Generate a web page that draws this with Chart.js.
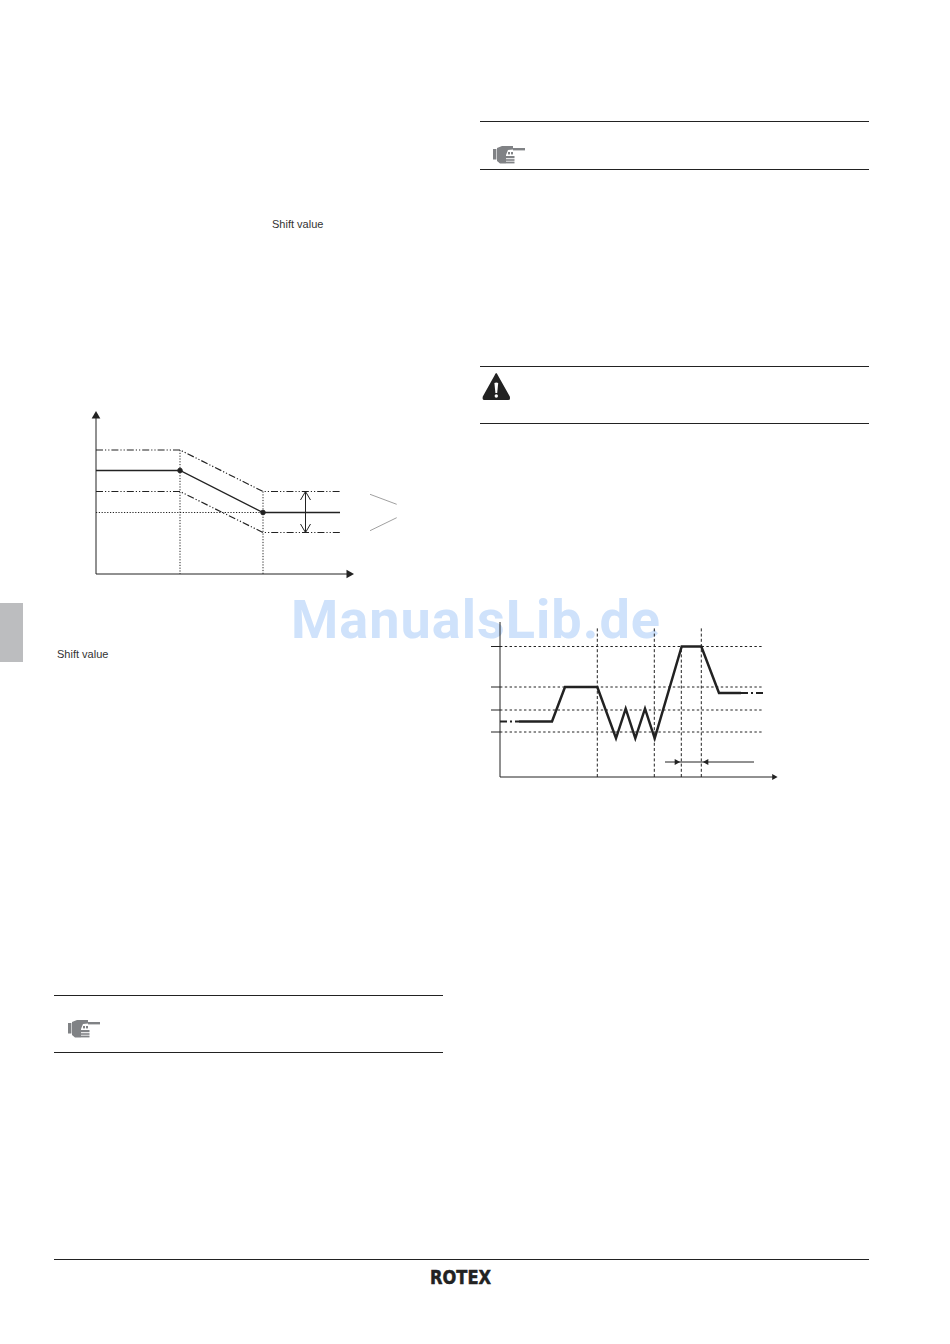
<!DOCTYPE html>
<html><head><meta charset="utf-8">
<script src="https://cdn.jsdelivr.net/npm/chart.js@4"></script>
<style>
html,body{margin:0;padding:0;background:#fff}
#page{position:relative;width:950px;height:1344px;overflow:hidden;background:#fff}
.rule{position:absolute;height:1px;background:#222}
.t{position:absolute;font-family:"Liberation Sans",sans-serif;font-size:11px;color:#333;line-height:13px;white-space:nowrap}
canvas{position:absolute}
#wm{position:absolute;left:291px;top:587px;font-family:Roboto,sans-serif;font-weight:700;font-size:54px;line-height:66px;letter-spacing:1.02px;color:#cfe2fb;white-space:nowrap;z-index:5;mix-blend-mode:multiply}
#logo{position:absolute;left:430px;top:1267px;font-family:"DejaVu Sans",sans-serif;font-weight:bold;font-size:19px;line-height:21px;color:#222;-webkit-text-stroke:.5px #222;transform:scaleX(.855);transform-origin:0 0}
</style></head><body>
<div id="page">
<div style="position:absolute;left:0;top:603px;width:23px;height:59px;background:#bcbdbf"></div>
<div class="rule" style="left:480px;top:121px;width:389px"></div>
<div class="rule" style="left:480px;top:169px;width:389px"></div>
<div class="rule" style="left:480px;top:366px;width:389px"></div>
<div class="rule" style="left:480px;top:423px;width:389px"></div>
<div class="rule" style="left:54px;top:995px;width:389px"></div>
<div class="rule" style="left:54px;top:1052px;width:389px"></div>
<div class="rule" style="left:54px;top:1259px;width:815px"></div>
<div class="t" style="left:272px;top:218px">Shift value</div>
<div class="t" style="left:57px;top:648px">Shift value</div>
<svg style="position:absolute;left:493px;top:146px" width="34" height="18" viewBox="0 0 34 18"><g fill="#808285"><rect x="0" y="3" width="3.4" height="10.5"/><path d="M4 2 L9 0 L20 0 L20 3.4 L15 4 L13 9 L13 17.4 L7 17.4 L4 15Z"/><rect x="20" y="2" width="12" height="2.4"/><rect x="15" y="6" width="2" height="2.4"/><rect x="18" y="6" width="2" height="2.4"/><rect x="13" y="10" width="8.5" height="2.2"/><rect x="13" y="13.2" width="8.5" height="1.6"/><rect x="13" y="15.6" width="8.5" height="1.8"/></g></svg>
<svg style="position:absolute;left:68px;top:1020px" width="34" height="18" viewBox="0 0 34 18"><g fill="#808285"><rect x="0" y="3" width="3.4" height="10.5"/><path d="M4 2 L9 0 L20 0 L20 3.4 L15 4 L13 9 L13 17.4 L7 17.4 L4 15Z"/><rect x="20" y="2" width="12" height="2.4"/><rect x="15" y="6" width="2" height="2.4"/><rect x="18" y="6" width="2" height="2.4"/><rect x="13" y="10" width="8.5" height="2.2"/><rect x="13" y="13.2" width="8.5" height="1.6"/><rect x="13" y="15.6" width="8.5" height="1.8"/></g></svg>
<svg style="position:absolute;left:482px;top:372px" width="30" height="29" viewBox="0 0 30 29"><path d="M14.2 1 Q15 1 16 3.5 L27.8 24.5 Q28.6 28 26.5 28 L2 28 Q0 28 .8 24.5 L12.5 3.5 Q13.4 1 14.2 1Z" fill="#222"/><path d="M12.4 11 Q14.3 10 16.2 11 L15.2 21 h-1.8Z" fill="#fff"/><circle cx="14.3" cy="24" r="1.7" fill="#fff"/></svg>
<div id="logo">ROTEX</div>
<canvas id="c1" width="330" height="190" style="left:80px;top:400px"></canvas>
<canvas id="c2" width="310" height="180" style="left:480px;top:615px"></canvas>
<div id="wm">ManualsLib.de</div>
</div>
<script>
// Chart 1: offsets of the drawing (x from y-axis, y from x-axis)
const c1AxisY     = [[0,0],[0,158]];
const c1AxisX     = [[0,0],[253,0]];
const c1Upper     = [[0,124],[84,124],[167,82.5],[244,82.5]];
const c1Middle    = [[0,103.5],[84,103.5],[167,61.5],[244,61.5]];
const c1Lower     = [[0,82.5],[84,82.5],[167,41.5],[244,41.5]];
const c1Reference = [[0,61.5],[167,61.5]];
const c1VLeft     = [[84,124],[84,0]];
const c1VRight    = [[167,82.5],[167,0]];
const c1Band      = [[209.5,82.5],[209.5,41.5]];
const c1BandHeadA = [[204.5,74],[209.5,82.5],[214.5,74]];
const c1BandHeadB = [[204.5,50],[209.5,41.5],[214.5,50]];
const c1SlashA    = [[274,79.7],[300.7,69.7]];
const c1SlashB    = [[274,43.3],[300.7,56.3]];
const c1Knots     = [[84,103.5],[167,61.5]];

// Chart 2: offsets (x from y-axis, y from x-axis)
const c2AxisY  = [[0,0],[0,155]];
const c2AxisX  = [[0,0],[274,0]];
const c2Levels = [130.5,90,67,45];
const c2Ticks  = [-9,0];
const c2VLines = [[97.3,149],[154.3,149],[181.3,130.5],[201.3,149]];
const c2LeadIn = [[0,55.5],[19,55.5]];
const c2Curve  = [[19,55.5],[52,55.5],[65,90],[97.3,90],[116,38.7],[125.7,68.3],[135.3,38.7],[145,68.3],[154.7,38.7],[181.7,130.5],[201.3,130.5],[219,84],[241,84]];
const c2LeadOut= [[241,84],[264,84]];
const c2SpanL  = [[165,15],[176.5,15]];
const c2SpanM  = [[176,15],[207,15]];
const c2SpanR  = [[254,15],[206.5,15]];

const INK='#222';
const pts=a=>a.map(p=>({x:p[0],y:p[1]}));
function line(data,o={}){return Object.assign({data:pts(data),borderColor:INK,borderWidth:1,pointRadius:0,tension:0,fill:false,clip:false,borderCapStyle:'butt',borderJoinStyle:'miter'},o);}
// an arrow tip is a triangle marker on the last vertex
function tipped(data,rot,r){const n=data.length;return line(data,{
  pointStyle:'triangle',pointRotation:rot,pointBackgroundColor:INK,pointBorderColor:INK,pointBorderWidth:0,
  pointRadius:data.map((_,i)=>(i===n-1?r:0))});}
function make(id,datasets,xMax,yMax,pad){
  new Chart(document.getElementById(id),{type:'line',data:{datasets},options:{
    responsive:false,animation:false,events:[],parsing:false,normalized:true,
    layout:{padding:pad,autoPadding:false},
    plugins:{legend:{display:false},tooltip:{enabled:false},title:{display:false}},
    scales:{x:{type:'linear',display:false,min:0,max:xMax},y:{type:'linear',display:false,min:0,max:yMax}}
  }});
}
const DASHDOT=[7,2,1.2,2,1.2,2], DOT=[1.2,1.6];
make('c1',[
  line(c1Reference,{borderDash:DOT}),
  line(c1VLeft,{borderDash:DOT}),
  line(c1VRight,{borderDash:DOT}),
  line(c1Upper,{borderDash:DASHDOT,borderWidth:1.2}),
  line(c1Lower,{borderDash:DASHDOT,borderWidth:1.2}),
  line(c1Middle,{borderWidth:1.3}),
  line(c1Band),line(c1BandHeadA),line(c1BandHeadB),
  line(c1SlashA,{borderColor:'#888',borderWidth:.8}),
  line(c1SlashB,{borderColor:'#888',borderWidth:.8}),
  tipped(c1AxisY,0,5),
  tipped(c1AxisX,90,5),
  line(c1Knots,{showLine:false,pointStyle:'circle',pointRadius:2.3,pointBackgroundColor:INK,pointBorderColor:INK})
],314,174,{left:16,top:0,right:0,bottom:16});

const DASH=[3,2.2];
const level=v=>line([[c2Ticks[1],v],[264,v]],{borderDash:[2.4,2.4]});
const tick=v=>line([[c2Ticks[0],v],[c2Ticks[1],v]]);
const vline=p=>line([[p[0],0],[p[0],p[1]]],{borderDash:DASH});
make('c2',[
  ...c2Levels.map(level),...c2Levels.map(tick),...c2VLines.map(vline),
  line(c2LeadIn,{borderWidth:2.2,borderDash:[7,3,2,3]}),
  line(c2LeadOut,{borderWidth:2.2,borderDash:[7,3,2,3]}),
  line(c2Curve,{borderWidth:2.5}),
  line(c2SpanM),
  tipped(c2SpanL,90,3.6),tipped(c2SpanR,-90,3.6),
  line(c2AxisY),
  tipped(c2AxisX,90,3.6)
],290,162,{left:20,top:0,right:0,bottom:18});
</script>
</body></html>
